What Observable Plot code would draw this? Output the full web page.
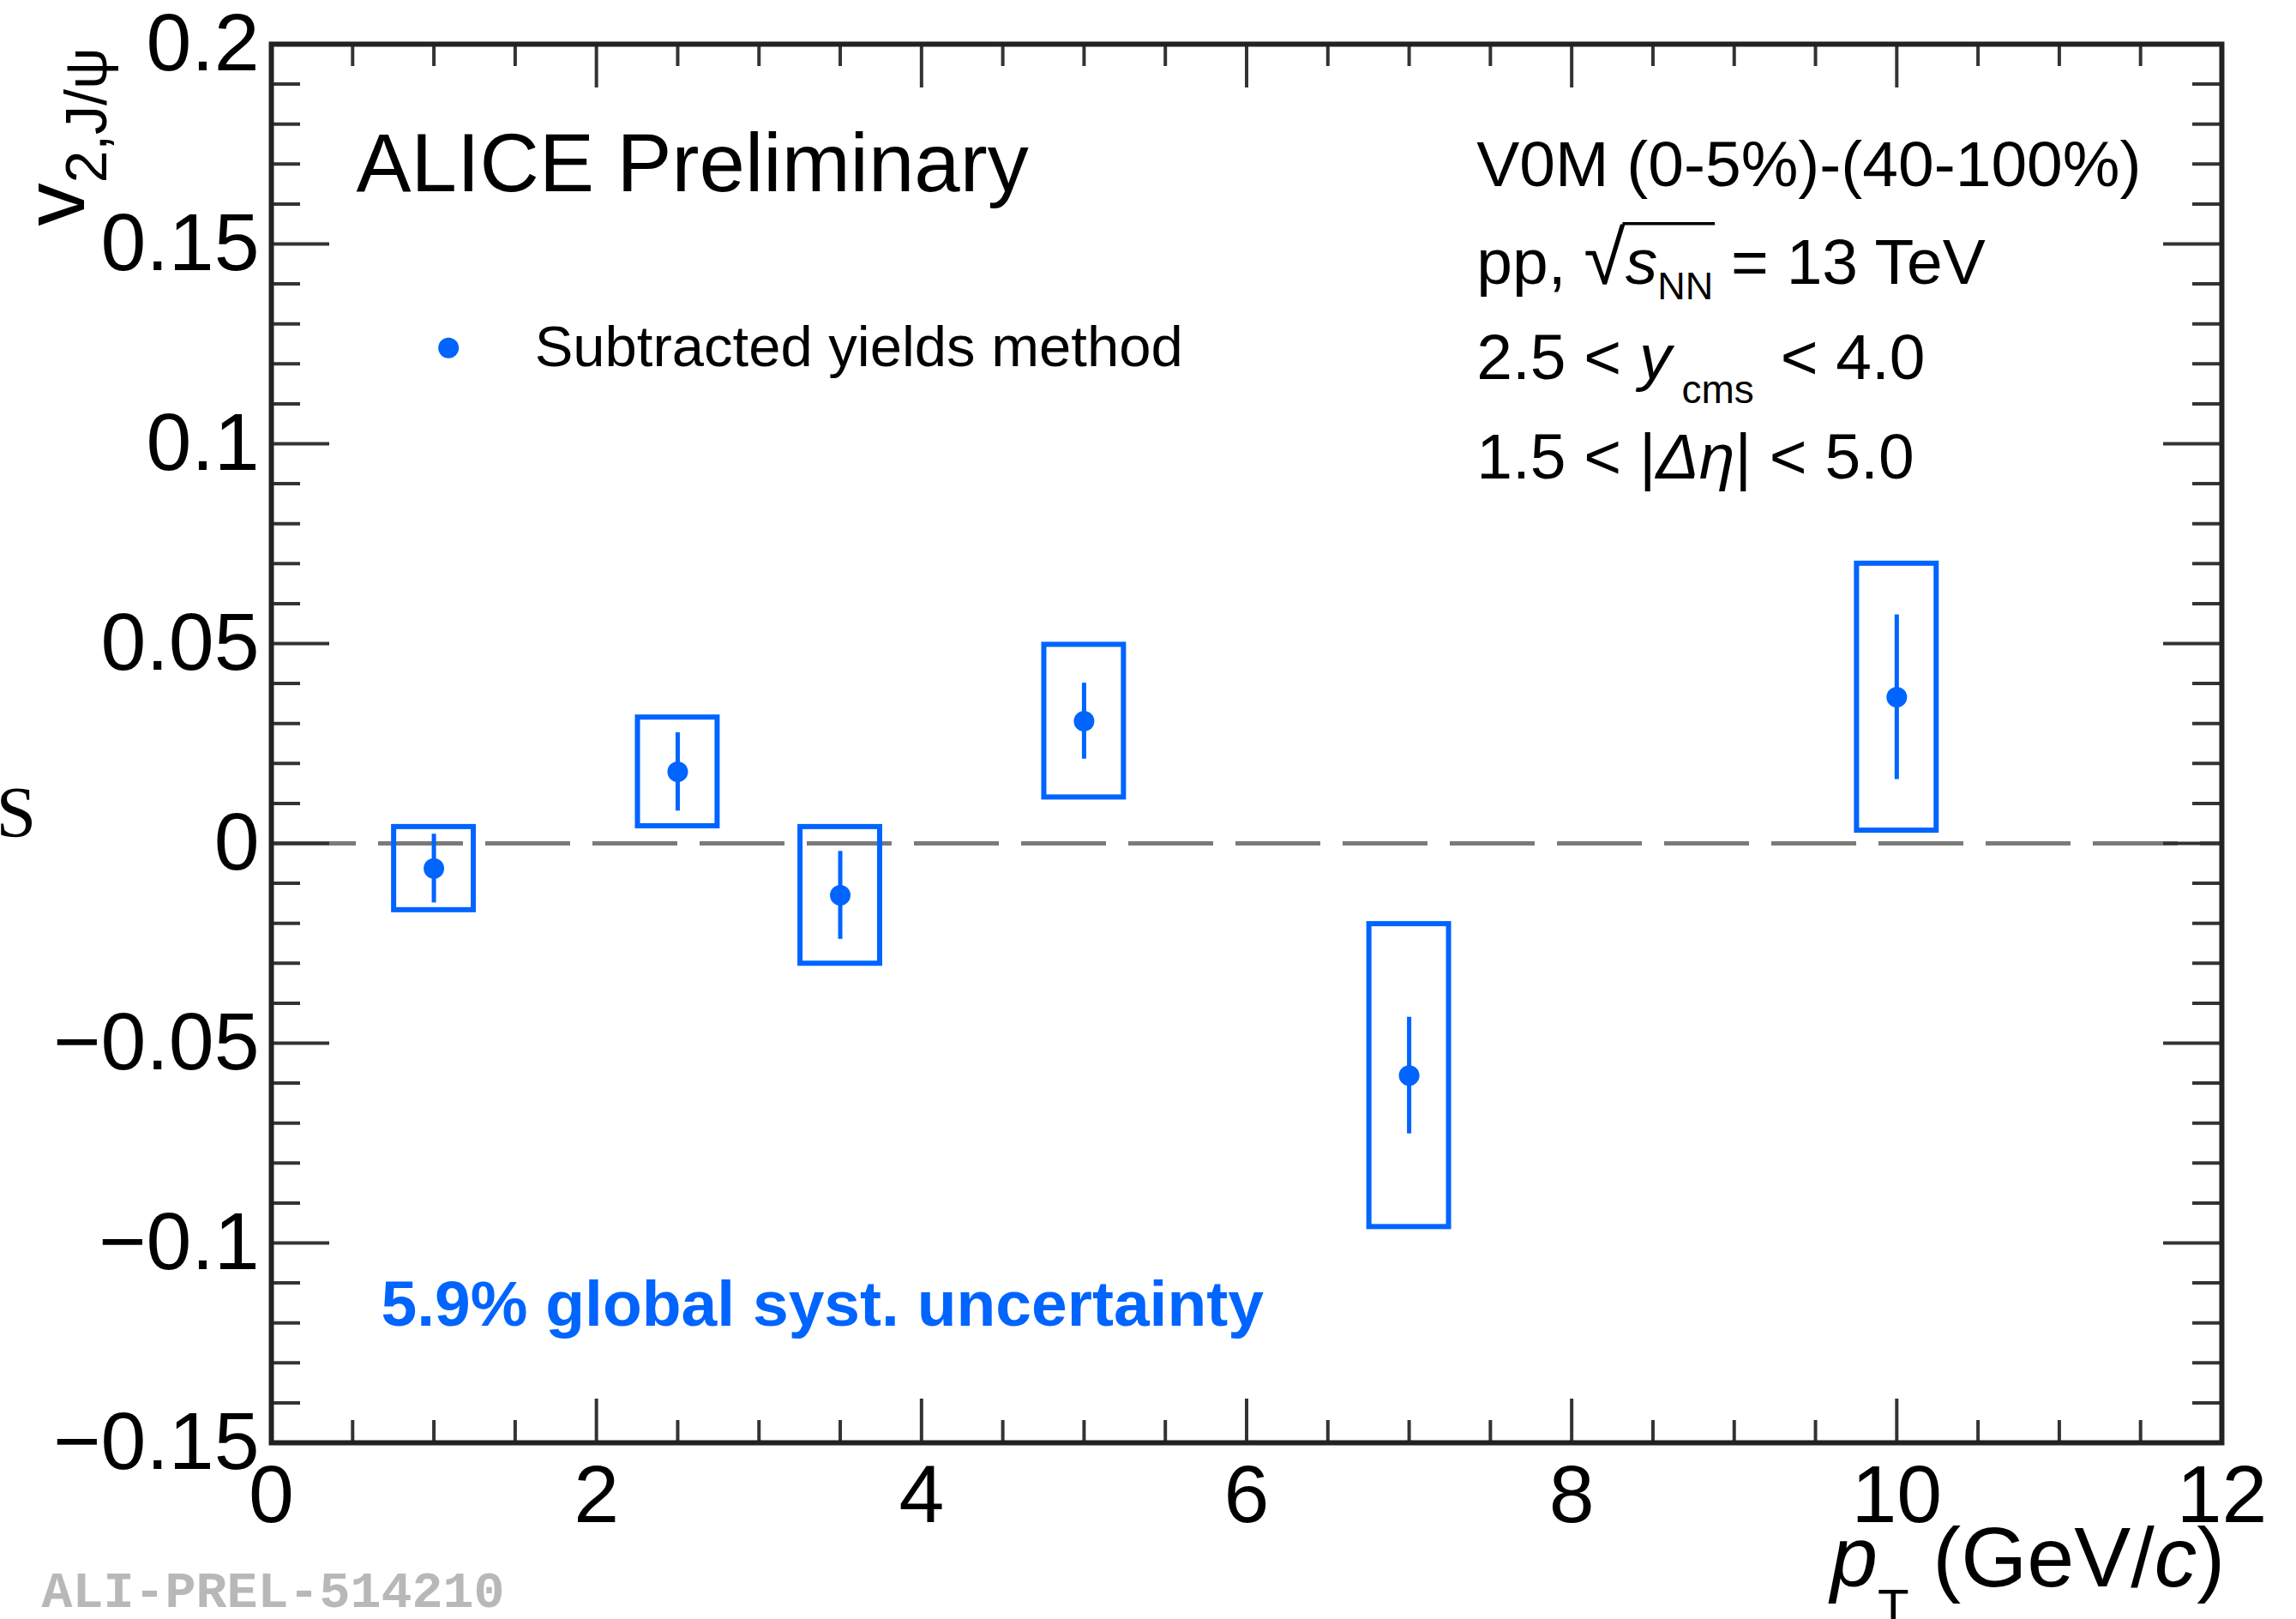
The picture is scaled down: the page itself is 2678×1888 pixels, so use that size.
<!DOCTYPE html>
<html><head><meta charset="utf-8">
<script src="https://cdn.jsdelivr.net/npm/d3@7"></script>
<script src="https://cdn.jsdelivr.net/npm/@observablehq/plot@0.6"></script>
<style>html,body{margin:0;padding:0;background:#fff;overflow:hidden}</style>
</head><body><div id="chart"></div>
<script>
// ---- data ----
const pT      = [1, 2.5, 3.5, 5, 7, 10];
const v2      = [-0.0063, 0.0179, -0.0130, 0.0306, -0.0581, 0.0366];
const statErr = [0.0086, 0.0098, 0.0110, 0.0095, 0.0146, 0.0206];
const systErr = [0.0104, 0.0136, 0.0171, 0.0191, 0.0379, 0.0334];
const systHalfWidth = 0.245; // pT half-width of the systematic boxes

const xTicksMajor = [0, 2, 4, 6, 8, 10, 12];
const xTickLabels = ["0", "2", "4", "6", "8", "10", "12"];
const yTicksMajor = [-0.15, -0.1, -0.05, 0, 0.05, 0.1, 0.15, 0.2];
const yTickLabels = ["\u22120.15", "\u22120.1", "\u22120.05", "0", "0.05", "0.1", "0.15", "0.2"];
const xTicksMinor = d3.range(0, 25).map(i => i / 2).filter(v => v % 2 !== 0);
const yTicksMinor = d3.range(-15, 21).filter(i => i % 5 !== 0).map(i => i / 100);

const legendLabel = "Subtracted yields method";
const infoLines = ["V0M (0-5%)-(40-100%)", "pp, \u221AsNN = 13 TeV", "2.5 < ycms < 4.0", "1.5 < |\u0394\u03B7| < 5.0"];

// ---- layout ----
const W = 2678, H = 1888;
const ML = 316, MR = 87, MT = 51, MB = 206;
const xDomain = [0, 12], yDomain = [-0.15, 0.2];
const pxPerX = (W - ML - MR) / (xDomain[1] - xDomain[0]);
const pxPerY = (H - MT - MB) / (yDomain[1] - yDomain[0]);
const yMajLen = 68 / pxPerX, yMinLen = 34 / pxPerX;
const xMajLen = 51 / pxPerY, xMinLen = 26 / pxPerY;

const blue = "#0064ff";
const tickColor = "#333";
const font = "'Liberation Sans', Arial, Helvetica, sans-serif";
const tickFont = 95;

const rows = pT.map((x, i) => ({pt: x, v: v2[i], stat: statErr[i], syst: systErr[i]}));

const chart = Plot.plot({
  width: W, height: H,
  marginLeft: ML, marginRight: MR, marginTop: MT, marginBottom: MB,
  x: {domain: xDomain, axis: null},
  y: {domain: yDomain, axis: null},
  style: {fontFamily: font, background: "white", color: "black", overflow: "visible"},
  marks: [
    // zero line
    Plot.ruleY([0], {stroke: "#7a7a7a", strokeWidth: 5, strokeDasharray: "99,26"}),
    // systematic boxes
    Plot.rect(rows, {x1: d => d.pt - systHalfWidth, x2: d => d.pt + systHalfWidth,
                     y1: d => d.v - d.syst, y2: d => d.v + d.syst,
                     fill: "none", stroke: blue, strokeWidth: 6}),
    // statistical error bars
    Plot.ruleX(rows, {x: "pt", y1: d => d.v - d.stat, y2: d => d.v + d.stat, stroke: blue, strokeWidth: 5}),
    Plot.dot(rows, {x: "pt", y: "v", r: 12, fill: blue}),

    // ticks (left/right)
    Plot.ruleY(yTicksMajor, {x1: xDomain[0], x2: xDomain[0] + yMajLen, stroke: tickColor, strokeWidth: 4}),
    Plot.ruleY(yTicksMajor, {x1: xDomain[1] - yMajLen, x2: xDomain[1], stroke: tickColor, strokeWidth: 4}),
    Plot.ruleY(yTicksMinor, {x1: xDomain[0], x2: xDomain[0] + yMinLen, stroke: tickColor, strokeWidth: 4}),
    Plot.ruleY(yTicksMinor, {x1: xDomain[1] - yMinLen, x2: xDomain[1], stroke: tickColor, strokeWidth: 4}),
    // ticks (bottom/top)
    Plot.ruleX(xTicksMajor, {y1: yDomain[0], y2: yDomain[0] + xMajLen, stroke: tickColor, strokeWidth: 4}),
    Plot.ruleX(xTicksMajor, {y1: yDomain[1] - xMajLen, y2: yDomain[1], stroke: tickColor, strokeWidth: 4}),
    Plot.ruleX(xTicksMinor, {y1: yDomain[0], y2: yDomain[0] + xMinLen, stroke: tickColor, strokeWidth: 4}),
    Plot.ruleX(xTicksMinor, {y1: yDomain[1] - xMinLen, y2: yDomain[1], stroke: tickColor, strokeWidth: 4}),
    Plot.frame({stroke: "#222", strokeWidth: 6}),

    // tick labels
    Plot.text(yTicksMajor, {x: xDomain[0], y: d => d, text: (d, i) => yTickLabels[i],
      textAnchor: "end", lineAnchor: "middle", dx: -14, fontSize: tickFont, fill: "black"}),
    Plot.text(xTicksMajor, {x: d => d, y: yDomain[0], text: (d, i) => xTickLabels[i],
      lineAnchor: "top", dy: 25, fontSize: tickFont, fill: "black"}),

    // axis titles
    Plot.text(["v2,J/\u03C8"], {x: -1.155, y: yDomain[1], rotate: -90, textAnchor: "end",
      lineAnchor: "bottom", dy: 4, fontSize: 100, fill: "black"}),
    Plot.text(["pT (GeV/c)"], {x: 12.02, y: -0.186, textAnchor: "end", lineAnchor: "bottom",
      fontSize: 99, fill: "black"}),

    // annotations
    Plot.text(["ALICE Preliminary"], {x: 0.522, y: 0.1633, textAnchor: "start", lineAnchor: "bottom",
      fontSize: 96, fill: "black"}),
    Plot.dot([legendLabel], {x: 1.09, y: 0.124, r: 12, fill: blue}),
    Plot.text([legendLabel], {x: 1.62, y: 0.124, textAnchor: "start", lineAnchor: "middle",
      fontSize: 67, fill: "black"}),
    Plot.text(infoLines, {x: 7.415, y: (d, i) => [0.1644, 0.1401, 0.1163, 0.0914][i],
      textAnchor: "start", lineAnchor: "bottom", fontSize: 75, fill: "black"}),
    Plot.text(["5.9% global syst. uncertainty"], {x: 0.675, y: -0.1208, textAnchor: "start",
      lineAnchor: "bottom", fontSize: 75, fontWeight: "bold", fill: blue}),
    Plot.text(["ALI-PREL-514210"], {x: -1.414, y: -0.1912, textAnchor: "start", lineAnchor: "bottom",
      fontSize: 60, fontWeight: "bold", fontFamily: "'Liberation Mono', 'DejaVu Sans Mono', monospace", fill: "#b8b8b8"}),
    Plot.text(["S"], {x: -1.667, y: 0.0017, textAnchor: "start", lineAnchor: "bottom", dx: -5,
      fontSize: 84, fontFamily: "'Liberation Serif', 'DejaVu Serif', serif", fill: "black"})
  ]
});
document.getElementById("chart").appendChild(chart);

// ---- rich text (italics, subscripts, radical) ----
const richText = {
  "v2,J/\u03C8": [{t: "v"}, {t: "2,J/\u03C8", size: 68, shift: 26}],
  "pT (GeV/c)": [{t: "p", italic: true}, {t: "T", size: 60, shift: 45}, {t: " (GeV/", shift: 0}, {t: "c", italic: true}, {t: ")"}],
  "pp, \u221AsNN = 13 TeV": [{t: "pp, "}, {t: "\u221A", size: 88, key: "sqrt"}, {t: "s", italic: true},
    {t: "NN", size: 45, shift: 18, key: "nn"}, {t: " = 13 TeV", shift: 0}],
  "2.5 < ycms < 4.0": [{t: "2.5 < "}, {t: "y", italic: true}, {t: "cms", size: 46, shift: 28, dx: 12}, {t: " < 4.0", shift: 0, dx: 10}],
  "1.5 < |\u0394\u03B7| < 5.0": [{t: "1.5 < |"}, {t: "\u0394\u03B7", italic: true}, {t: "| < 5.0"}]
};
d3.select(chart).selectAll("text").each(function () {
  const segs = richText[this.textContent];
  if (!segs) return;
  const sel = d3.select(this);
  sel.text(null);
  let shift = 0;
  const refs = {};
  for (const s of segs) {
    const ts = sel.append("tspan").text(s.t);
    const target = s.shift === undefined ? shift : s.shift;
    if (target !== shift) { ts.attr("dy", target - shift); shift = target; }
    if (s.dx) ts.attr("dx", s.dx);
    if (s.size) ts.attr("font-size", s.size);
    if (s.italic) ts.attr("font-style", "italic");
    if (s.key) refs[s.key] = ts.node();
  }
  if (refs.sqrt && refs.nn) {
    const a = refs.sqrt.getBBox(), b = refs.nn.getBBox();
    d3.select(this.parentNode).append("line")
      .attr("transform", this.getAttribute("transform"))
      .attr("x1", a.x + a.width * 0.92).attr("x2", b.x + b.width + 2)
      .attr("y1", -70).attr("y2", -70)
      .attr("stroke", "black").attr("stroke-width", 3.5);
  }
});
</script>
</body></html>
